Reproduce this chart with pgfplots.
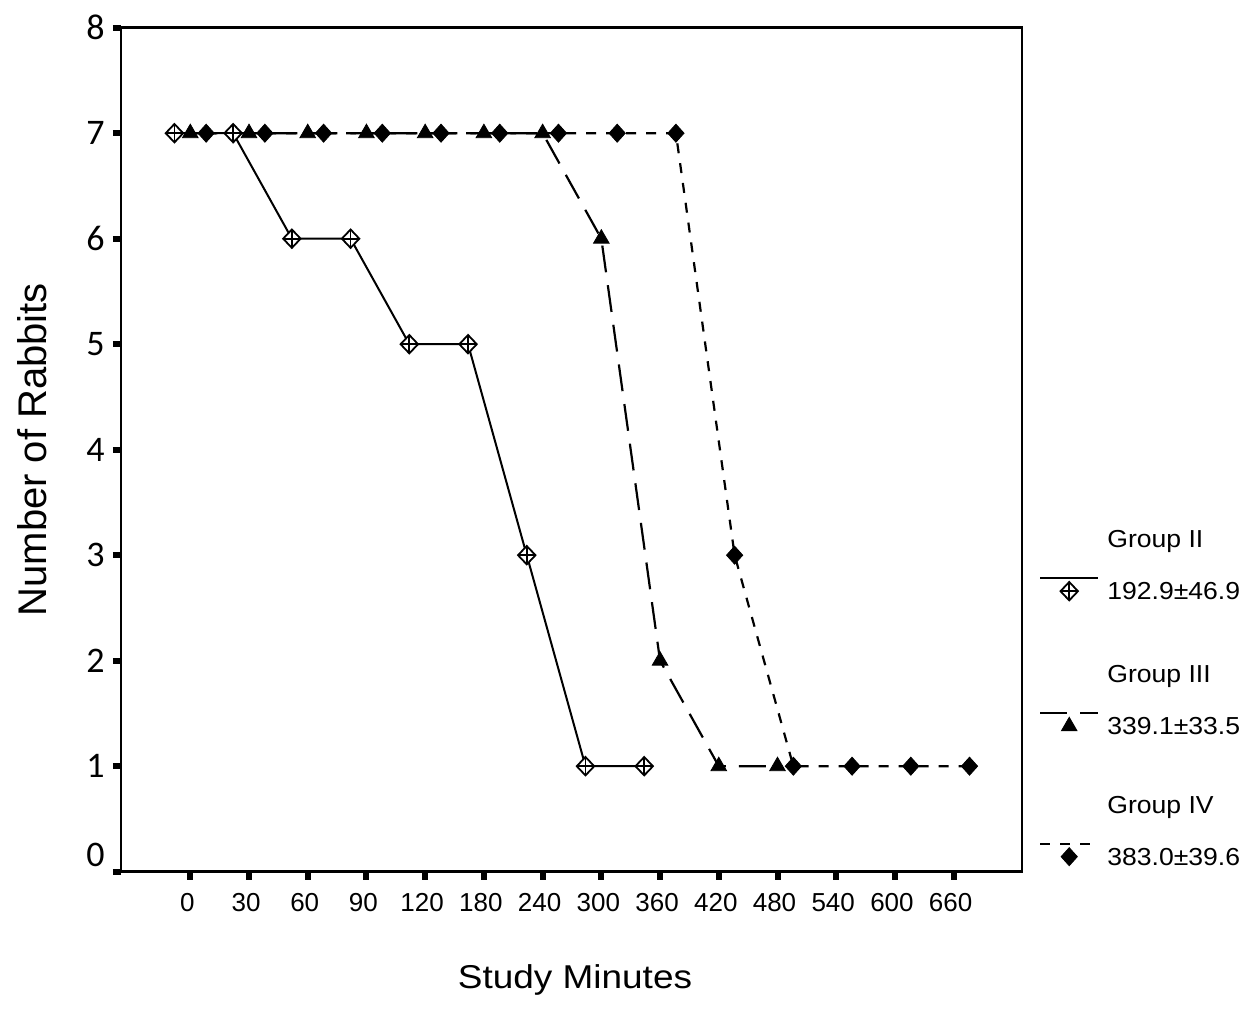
\documentclass[border=0pt]{standalone}
\usepackage{fontspec}
\setmainfont{Liberation Sans}
\newfontfamily\carl{Carlito}
\newfontfamily\legf[FakeStretch=1.08]{Liberation Sans}
\newfontfamily\xlabf[FakeStretch=1.12]{Liberation Sans}
\usepackage{pgfplots}
\pgfplotsset{compat=1.18}

\pgfdeclareplotmark{dplus}{%
  \pgfpathmoveto{\pgfqpoint{0pt}{\pgfplotmarksize}}%
  \pgfpathlineto{\pgfqpoint{0.95\pgfplotmarksize}{0pt}}%
  \pgfpathlineto{\pgfqpoint{0pt}{-\pgfplotmarksize}}%
  \pgfpathlineto{\pgfqpoint{-0.95\pgfplotmarksize}{0pt}}%
  \pgfpathclose
  \pgfusepathqfillstroke
  \pgfpathmoveto{\pgfqpoint{0pt}{\pgfplotmarksize}}%
  \pgfpathlineto{\pgfqpoint{0pt}{-\pgfplotmarksize}}%
  \pgfpathmoveto{\pgfqpoint{0.95\pgfplotmarksize}{0pt}}%
  \pgfpathlineto{\pgfqpoint{-0.95\pgfplotmarksize}{0pt}}%
  \pgfusepathqstroke
}
\pgfdeclareplotmark{fdiam}{%
  \pgfpathmoveto{\pgfqpoint{0pt}{\pgfplotmarksize}}%
  \pgfpathlineto{\pgfqpoint{0.9\pgfplotmarksize}{0pt}}%
  \pgfpathlineto{\pgfqpoint{0pt}{-\pgfplotmarksize}}%
  \pgfpathlineto{\pgfqpoint{-0.9\pgfplotmarksize}{0pt}}%
  \pgfpathclose
  \pgfusepathqfillstroke
}

\begin{document}
\begin{tikzpicture}
\begin{axis}[
  at={(0,0)}, anchor=south west,
  scale only axis, width=450.5pt, height=422pt,
  xmin=-1.180, xmax=14.164, ymin=0, ymax=8,
  xtick={0,1,2,3,4,5,6,7,8,9,10,11,12,13},
  xticklabels={0,30,60,90,120,180,240,300,360,420,480,540,600,660},
  ytick={0,1,2,3,4,5,6,7,8},
  yticklabels={\raisebox{17pt}{0},1,2,3,4,5,6,7,8},
  tick pos=left, tick align=outside,
  major tick length=4pt,
  tick style={line width=3pt, black},
  axis line style={line width=1.3pt},
  /pgf/number format/assume math mode=true,
  xticklabel style={anchor=north, inner sep=0pt, yshift=-6.65pt, xshift=-1.5pt, font=\fontsize{13}{15}\selectfont},
  yticklabel style={anchor=east, inner sep=0pt, xshift=-4pt, font=\carl\fontsize{18}{20}\selectfont},
  xlabel={Study Minutes},
  xlabel style={at={([xshift=1.75pt,yshift=-58.6pt]axis description cs:0.5,0)}, anchor=base, font=\xlabf\fontsize{16.5}{19}\selectfont},
  ylabel={Number of Rabbits},
  ylabel style={at={([xshift=-37pt]axis description cs:0,0.5)}, anchor=base, rotate=0, font=\fontsize{20}{24}\selectfont},
  legend cell align=left,
  legend style={at={(1.019,0.2070)}, anchor=west, draw=none, fill=none,
    inner sep=0pt, outer sep=0pt, column sep=4pt, row sep=31.5pt,
    font=\legf\fontsize{12.3}{14}\selectfont, nodes={inner sep=0pt}},
]
\addplot[black, line width=1pt, mark=dplus, mark size=4.6pt,
  mark options={solid, fill=white, draw=black, line width=0.9pt},
  legend image code/.code={\draw[mark=none] (0pt,-12.7pt) -- (29pt,-12.7pt);
    \draw[only marks] plot coordinates {(14.5pt,-19.2pt)};}]
coordinates {(-0.27,7) (0.73,7) (1.73,6) (2.73,6) (3.73,5) (4.73,5) (5.73,3) (6.73,1) (7.73,1)};
\addlegendentry{\begin{tabular}{@{}l@{}}Group II\\[12pt]192.9±46.9\end{tabular}}

\addplot[black, line width=1.1pt, dash pattern=on 13.5pt off 6.5pt, mark=triangle*, mark size=4.5pt,
  mark options={solid, fill=black, draw=black, line width=0.4pt},
  legend image code/.code={\draw[mark=none] (0pt,-12.7pt) -- (29pt,-12.7pt);
    \draw[only marks] plot coordinates {(14.5pt,-19.2pt)};}]
coordinates {(0,7) (1,7) (2,7) (3,7) (4,7) (5,7) (6,7) (7,6) (8,2) (9,1) (10,1)};
\addlegendentry{\begin{tabular}{@{}l@{}}Group III\\[12pt]339.1±33.5\end{tabular}}

\addplot[black, line width=1.1pt, dash pattern=on 5pt off 5pt, mark=fdiam, mark size=4.5pt,
  mark options={solid, fill=black, draw=black, line width=0.4pt},
  legend image code/.code={\draw[mark=none] (0pt,-12.7pt) -- (29pt,-12.7pt);
    \draw[only marks] plot coordinates {(14.5pt,-19.2pt)};}]
coordinates {(0.27,7) (1.27,7) (2.27,7) (3.27,7) (4.27,7) (5.27,7) (6.27,7) (7.27,7) (8.27,7) (9.27,3) (10.27,1) (11.27,1) (12.27,1) (13.27,1)};
\addlegendentry{\begin{tabular}{@{}l@{}}Group IV\\[12pt]383.0±39.6\end{tabular}}
\end{axis}
\pgfresetboundingbox
\path[use as bounding box] (-60.5pt,-71.65pt) rectangle (562pt,435.85pt);
\end{tikzpicture}
\end{document}
